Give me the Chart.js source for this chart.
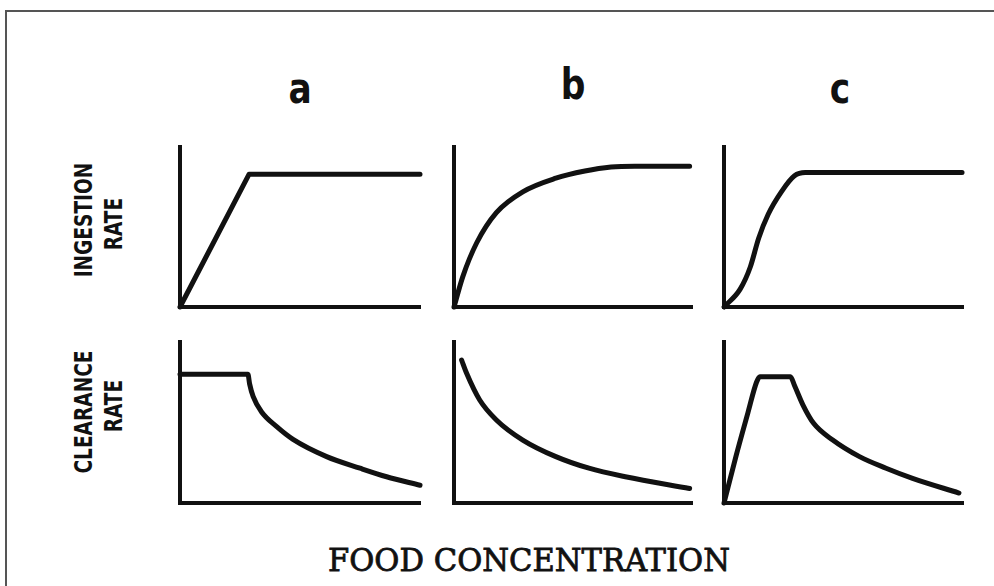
<!DOCTYPE html>
<html lang="en">
<head>
  <meta charset="UTF-8">
  <title>Ingestion and clearance rate vs food concentration</title>
  <script src="https://cdn.jsdelivr.net/npm/chart.js"></script>
  <style>
    body { margin: 0; background: #fff; }
    #page { position: relative; width: 994px; height: 586px; overflow: hidden; background: #fff; }
    #frame { position: absolute; left: 5px; top: 10px; width: 1000px; height: 600px; border-top: 2px solid #555; border-left: 2px solid #555; }
    .panel { position: absolute; }
    .letter { position: absolute; font-family: "DejaVu Sans", sans-serif; font-weight: bold; font-size: 42px; color: #111; transform: translate(-50%, -50%) scaleX(0.82); }
    .ylab { position: absolute; font-family: "DejaVu Sans Condensed", "DejaVu Sans", sans-serif; font-weight: bold; font-size: 24px; color: #111; white-space: nowrap; transform: translate(-50%, -50%) rotate(-90deg) scaleX(0.86); }
    #xlab { position: absolute; left: 529px; top: 560px; font-family: "DejaVu Serif", serif; font-size: 31px; color: #111; -webkit-text-stroke: 0.8px #111; white-space: nowrap; transform-origin: 0 50%; }
  </style>
</head>
<body>
<div id="page">
  <div id="frame"></div>

  <div class="letter" style="left:300px; top:88px;">a</div>
  <div class="letter" style="left:573px; top:84px;">b</div>
  <div class="letter" style="left:840px; top:88px;">c</div>

  <div class="ylab" style="left:84px; top:220px;">INGESTION</div>
  <div class="ylab" style="left:114px; top:224px;">RATE</div>
  <div class="ylab" style="left:84px; top:412px;">CLEARANCE</div>
  <div class="ylab" style="left:114px; top:406px;">RATE</div>

  <div id="xlab">FOOD CONCENTRATION</div>
</div>

<script>
  // food concentration (x) vs rate (y), both on a 0-10 relative scale
  const ingestionA = [[0, 0], [2.88, 8.3], [10, 8.3]];
  const ingestionB = [[0, 0], [0.37, 1.9], [0.95, 4.0], [1.78, 5.9], [2.89, 7.2], [4.28, 8.05], [5.5, 8.5], [6.6, 8.75], [7.6, 8.8], [9.9, 8.8]];
  const ingestionC = [[0, 0], [0.67, 1.1], [1.1, 2.5], [1.45, 4.3], [1.85, 5.8], [2.4, 7.2], [2.95, 8.2], [3.4, 8.4], [9.96, 8.4]];

  const clearanceA = [[0, 8.0], [2.83, 8.0], [2.9, 7.4], [3.05, 6.6], [3.4, 5.65], [4.03, 4.74], [4.71, 3.95], [6.11, 2.88], [7.5, 2.16], [8.61, 1.63], [10, 1.1]];
  const clearanceB = [[0.32, 8.88], [0.53, 8.06], [1.08, 6.4], [1.78, 5.16], [2.89, 3.91], [4.28, 2.88], [5.67, 2.16], [7.2, 1.63], [9.9, 0.9]];
  const clearanceC = [[0, 0], [0.5, 2.9], [1.0, 5.6], [1.36, 7.5], [1.5, 7.84], [2.78, 7.84], [2.95, 7.3], [3.3, 6.1], [3.75, 4.95], [4.55, 3.91], [5.67, 2.88], [6.78, 2.16], [7.89, 1.53], [9.83, 0.62]];

  // panel placement: origin corner of each axis pair on the page
  const PAD = 6;
  const panels = [
    { data: ingestionA, left: 180, top: 147, w: 240, h: 160, smooth: false },
    { data: ingestionB, left: 454, top: 147, w: 238, h: 160, smooth: true },
    { data: ingestionC, left: 724, top: 147, w: 239, h: 160, smooth: true },
    { data: clearanceA, left: 180, top: 342, w: 240, h: 161, smooth: true },
    { data: clearanceB, left: 454, top: 342, w: 238, h: 161, smooth: true },
    { data: clearanceC, left: 724, top: 342, w: 239, h: 161, smooth: true }
  ];

  const axis = (pos) => ({
    type: 'linear',
    position: pos,
    min: 0,
    max: 10,
    grid: { display: false, drawTicks: false },
    ticks: { display: false },
    border: { display: true, color: '#111', width: 4 }
  });

  panels.forEach(function (p) {
    const box = document.createElement('div');
    box.className = 'panel';
    box.style.left = (p.left - PAD) + 'px';
    box.style.top = (p.top - PAD) + 'px';
    const cv = document.createElement('canvas');
    cv.width = p.w + 2 * PAD;
    cv.height = p.h + 2 * PAD;
    box.appendChild(cv);
    document.getElementById('page').appendChild(box);

    new Chart(cv.getContext('2d'), {
      type: 'line',
      data: {
        datasets: [{
          data: p.data.map(d => ({ x: d[0], y: d[1] })),
          borderColor: '#111',
          borderWidth: 5,
          pointRadius: 0,
          fill: false,
          clip: false,
          borderJoinStyle: 'round',
          borderCapStyle: 'round',
          cubicInterpolationMode: p.smooth ? 'monotone' : 'default',
          tension: 0
        }]
      },
      options: {
        responsive: false,
        animation: false,
        layout: { padding: PAD },
        plugins: { legend: { display: false }, tooltip: { enabled: false } },
        scales: { x: axis('bottom'), y: axis('left') }
      }
    });
  });

  // stretch the axis caption to span 328-730 px
  const xl = document.getElementById('xlab');
  const k = 402 / xl.offsetWidth;
  xl.style.left = '328px';
  xl.style.top = (560 - xl.offsetHeight / 2) + 'px';
  xl.style.transform = 'scaleX(' + k + ')';
</script>
</body>
</html>
